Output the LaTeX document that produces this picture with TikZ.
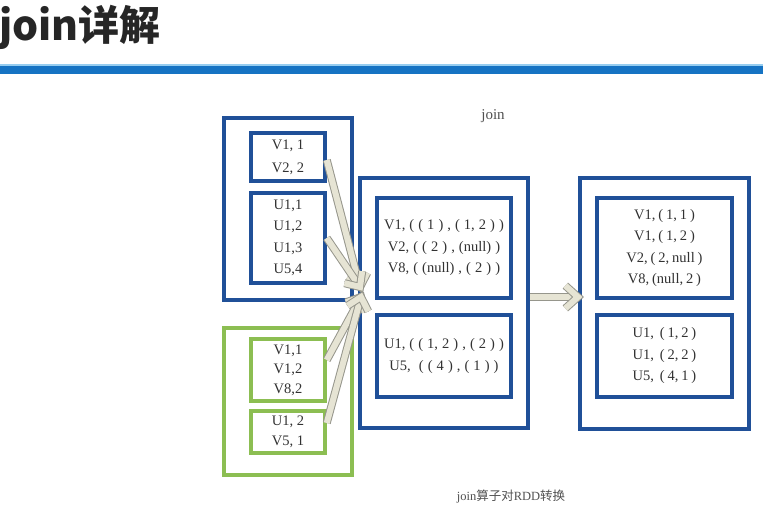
\documentclass[tikz,border=0pt]{standalone}
\usepackage{fontspec}
\setmainfont{Liberation Serif}
\newfontfamily\cjk{Noto Sans CJK SC}
\usetikzlibrary{calc}
\definecolor{jblue}{RGB}{32,80,152}
\definecolor{jgreen}{RGB}{140,190,82}
\definecolor{barblue}{RGB}{22,115,195}
\definecolor{barlight}{RGB}{150,205,240}
\definecolor{txt}{RGB}{50,50,50}
\definecolor{arrfill}{RGB}{230,228,212}
\definecolor{arrline}{RGB}{150,150,140}
\newcommand\gp{\hspace{0.2em}}
\newcommand\gq{\hspace{0.28em}}
\tikzset{
  bbox/.style={draw=jblue, line width=3.5pt, rectangle, inner sep=0pt, align=center,
     text=txt, font=\fontsize{14.5}{21.5}\selectfont},
  gbox/.style={bbox, draw=jgreen},
  fatline/.style={draw=arrline, line width=1pt, double=arrfill, double distance=6pt}
}
\newcommand\jarrow[3]{%
  \draw[fatline] (#1) -- ($(#2)!2pt!(#1)$);
  \draw[fatline, line join=miter, line cap=butt] ($(#2)!#3!42:(#1)$) -- (#2) -- ($(#2)!#3!-42:(#1)$);
}
\begin{document}
\begin{tikzpicture}[x=1pt,y=-1pt]
\useasboundingbox (0,0) rectangle (763,514);
\fill[white] (0,0) rectangle (763,514);
% title
\node[anchor=base west, inner sep=0pt, font=\cjk\bfseries\fontsize{41}{43}\selectfont, text=black!85] (title) at (-1,40) {join详解};
\fill[barlight] (0,63.5) rectangle (763,65.5);
\fill[barblue] (0,65.5) rectangle (763,74);
% labels
\node[text=txt!85, font=\fontsize{15}{17}\selectfont] (joinlbl) at (493,116) {join};
\node[text=txt!85, font=\fontsize{12.5}{14}\selectfont] (caption) at (511,497) {join{\cjk 算子对}RDD{\cjk 转换}};
% left blue group
\node[bbox, minimum width=128pt, minimum height=182pt] (lo) at (288,209) {};
\node[bbox, minimum width=74pt, minimum height=48pt, font=\fontsize{14.5}{23}\selectfont] (lv) at (288,157) {V1, 1\\V2, 2};
\node[bbox, minimum width=74pt, minimum height=90pt] (lu) at (288,238) {U1,1\\U1,2\\U1,3\\U5,4};
% left green group
\node[gbox, minimum width=128pt, minimum height=147pt] (go) at (288,401.5) {};
\node[gbox, minimum width=74pt, minimum height=62pt, font=\fontsize{14.5}{19.5}\selectfont] (gv) at (288,370) {V1,1\\V1,2\\V8,2};
\node[gbox, minimum width=74pt, minimum height=42pt, font=\fontsize{14.5}{20}\selectfont] (gu) at (288,432) {U1, 2\\V5, 1};
% middle group
\node[bbox, minimum width=168pt, minimum height=250pt] (mo) at (444,303) {};
\node[bbox, minimum width=134pt, minimum height=100pt] (mt) at (444,248)
  {V1,\gq(\gq(\gq1\gq)\gq,\gq(\gq1,\gq2\gq)\gq)\\V2,\gq(\gq(\gq2\gq)\gq,\gq(null)\gq)\\V8,\gq(\gq(null)\gq,\gq(\gq2\gq)\gq)};
\node[bbox, minimum width=134pt, minimum height=82pt] (mb) at (444,356)
  {U1,\gq(\gq(\gq1,\gq2\gq)\gq,\gq(\gq2\gq)\gq)\\U5,\gq\gq(\gq(\gq4\gq)\gq,\gq(\gq1\gq)\gq)};
% right group
\node[bbox, minimum width=169pt, minimum height=251pt] (ro) at (664.5,303.5) {};
\node[bbox, minimum width=135pt, minimum height=100pt] (rt) at (664.5,248)
  {V1,\gp(\gp1,\gp1\gp)\\V1,\gp(\gp1,\gp2\gp)\\V2,\gp(\gp2,\gp null\gp)\\V8,\gp(null,\gp2\gp)};
\node[bbox, minimum width=135pt, minimum height=82pt] (rb) at (664.5,356)
  {U1,\gp\gp(\gp1,\gp2\gp)\\U1,\gp\gp(\gp2,\gp2\gp)\\U5,\gp\gp(\gp4,\gp1\gp)};
% arrows
\coordinate (tipa) at (360,287);
\coordinate (tipb) at (361,297);
\coordinate (tipc) at (578,297);
\jarrow{$(lv.east)+(0,3)$}{tipa}{16pt}
\jarrow{lu.east}{tipa}{16pt}
\jarrow{$(gv.east)+(0,-10)$}{tipb}{16pt}
\jarrow{$(gu.east)+(0,-9)$}{tipb}{16pt}
\jarrow{$(mo.east)+(0,-6)$}{tipc}{17pt}
\end{tikzpicture}
\end{document}
